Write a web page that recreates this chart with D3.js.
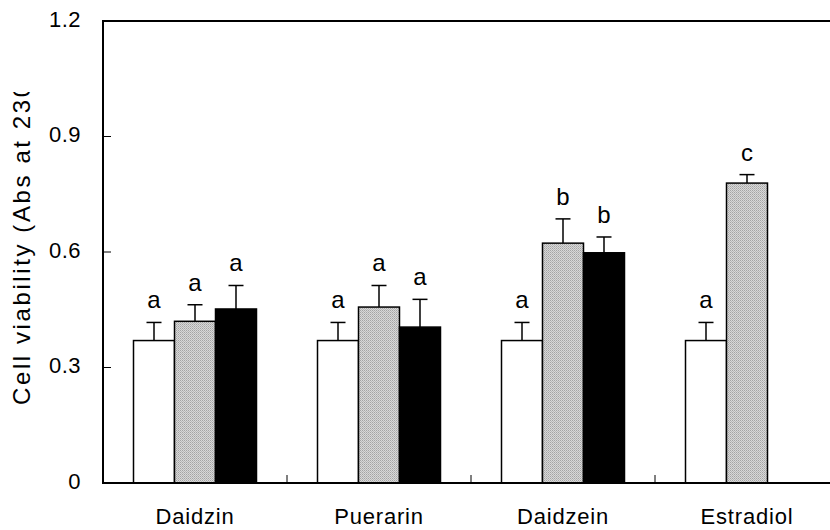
<!DOCTYPE html>
<html><head><meta charset="utf-8">
<script src="https://cdn.jsdelivr.net/npm/d3@7"></script>
<style>body{margin:0;background:#fff;}svg{display:block;font-family:"Liberation Sans",Arial,sans-serif;}</style>
</head><body><svg id="c" width="830" height="530"></svg>
<script>
const categories = ["Daidzin","Puerarin","Daidzein","Estradiol"];
const seriesNames = ["Control","Dose 1","Dose 2"];
const controlVals = [0.37,0.37,0.37,0.37];
const controlErr  = [0.047,0.047,0.047,0.047];
const dose1Vals = [0.42,0.457,0.623,0.779];
const dose1Err  = [0.043,0.056,0.063,0.022];
const dose2Vals = [0.452,0.405,0.598,null];
const dose2Err  = [0.061,0.072,0.041,null];
const controlLetters = ["a","a","a","a"];
const dose1Letters = ["a","a","b","c"];
const dose2Letters = ["a","a","b",null];
const yTicks = [0,0.3,0.6,0.9,1.2];
const yLabel = "Cell viability (Abs at 230 nm)";

const svg = d3.select("#c");
const pLeft=103, pRight=839, pTop=21, pBottom=483;
const x = d3.scaleBand().domain(categories).range([pLeft,pRight]).padding(0);
const xs = d3.scaleBand().domain(seriesNames).range([0,x.bandwidth()]).paddingInner(0).paddingOuter(0.744);
const y = d3.scaleLinear().domain([0,1.2]).range([pBottom,pTop]);

const defs = svg.append("defs");
const pat = defs.append("pattern").attr("id","dots").attr("width",2).attr("height",2).attr("patternUnits","userSpaceOnUse");
pat.append("rect").attr("width",2).attr("height",2).attr("fill","#d8d8d8");
pat.append("rect").attr("width",1).attr("height",1).attr("fill","#a4a4a4");
pat.append("rect").attr("x",1).attr("y",1).attr("width",1).attr("height",1).attr("fill","#b8b8b8");

const fills = {"Control":"#fff","Dose 1":"url(#dots)","Dose 2":"#000"};
const vals = {"Control":controlVals,"Dose 1":dose1Vals,"Dose 2":dose2Vals};
const errs = {"Control":controlErr,"Dose 1":dose1Err,"Dose 2":dose2Err};
const lets = {"Control":controlLetters,"Dose 1":dose1Letters,"Dose 2":dose2Letters};

const data = [];
categories.forEach((c,i)=>seriesNames.forEach(s=>{
  if(vals[s][i]!=null) data.push({c,s,v:vals[s][i],e:errs[s][i],l:lets[s][i]});
}));

const g = svg.append("g");
g.selectAll(".err").data(data).join("g").each(function(d){
  const cx = x(d.c)+xs(d.s)+xs.bandwidth()/2;
  const sel = d3.select(this);
  sel.append("line").attr("x1",cx).attr("x2",cx).attr("y1",y(d.v)).attr("y2",y(d.v+d.e)).attr("stroke","#000").attr("stroke-width",1.5);
  sel.append("line").attr("x1",cx-7.5).attr("x2",cx+7.5).attr("y1",y(d.v+d.e)).attr("y2",y(d.v+d.e)).attr("stroke","#000").attr("stroke-width",1.5);
  if(d.l) sel.append("text").attr("x",cx).attr("y",y(d.v+d.e)-14).attr("text-anchor","middle").attr("font-size",24).text(d.l);
});
g.selectAll("rect.bar").data(data).join("rect").attr("class","bar")
  .attr("x",d=>x(d.c)+xs(d.s)).attr("width",xs.bandwidth())
  .attr("y",d=>y(d.v)).attr("height",d=>y(0)-y(d.v))
  .attr("fill",d=>fills[d.s]).attr("stroke","#000").attr("stroke-width",1.5);

svg.append("line").attr("x1",pLeft).attr("x2",830).attr("y1",pTop).attr("y2",pTop).attr("stroke","#000").attr("stroke-width",2);
svg.append("line").attr("x1",pLeft).attr("x2",830).attr("y1",pBottom).attr("y2",pBottom).attr("stroke","#000").attr("stroke-width",2);
svg.append("line").attr("x1",pLeft).attr("x2",pLeft).attr("y1",pTop-1).attr("y2",pBottom+1).attr("stroke","#000").attr("stroke-width",2);

const yAxis = svg.append("g");
yTicks.forEach(t=>{
  if(t>0 && t<1.2) yAxis.append("line").attr("x1",pLeft).attr("x2",pLeft+8).attr("y1",y(t)).attr("y2",y(t)).attr("stroke","#000").attr("stroke-width",1);
  yAxis.append("text").attr("x",81).attr("y",y(t)).attr("dy","0.27em").attr("text-anchor","end").attr("font-size",22).attr("letter-spacing","0.5px").text(t===0?"0":t.toFixed(1));
});
categories.slice(1).forEach(c=>{
  svg.append("line").attr("x1",x(c)).attr("x2",x(c)).attr("y1",pBottom).attr("y2",pBottom-8).attr("stroke","#000").attr("stroke-width",1);
});
categories.forEach(c=>{
  svg.append("text").attr("x",x(c)+x.bandwidth()/2).attr("y",524).attr("text-anchor","middle").attr("font-size",22).attr("letter-spacing","0.8px").text(c);
});

defs.append("clipPath").attr("id","ylc").append("rect").attr("x",0).attr("y",92).attr("width",60).attr("height",400);
svg.append("g").attr("clip-path","url(#ylc)").append("text")
  .attr("transform","translate(30,405) rotate(-90)").attr("font-size",24).attr("letter-spacing","2.6px").text(yLabel);
</script></body></html>
